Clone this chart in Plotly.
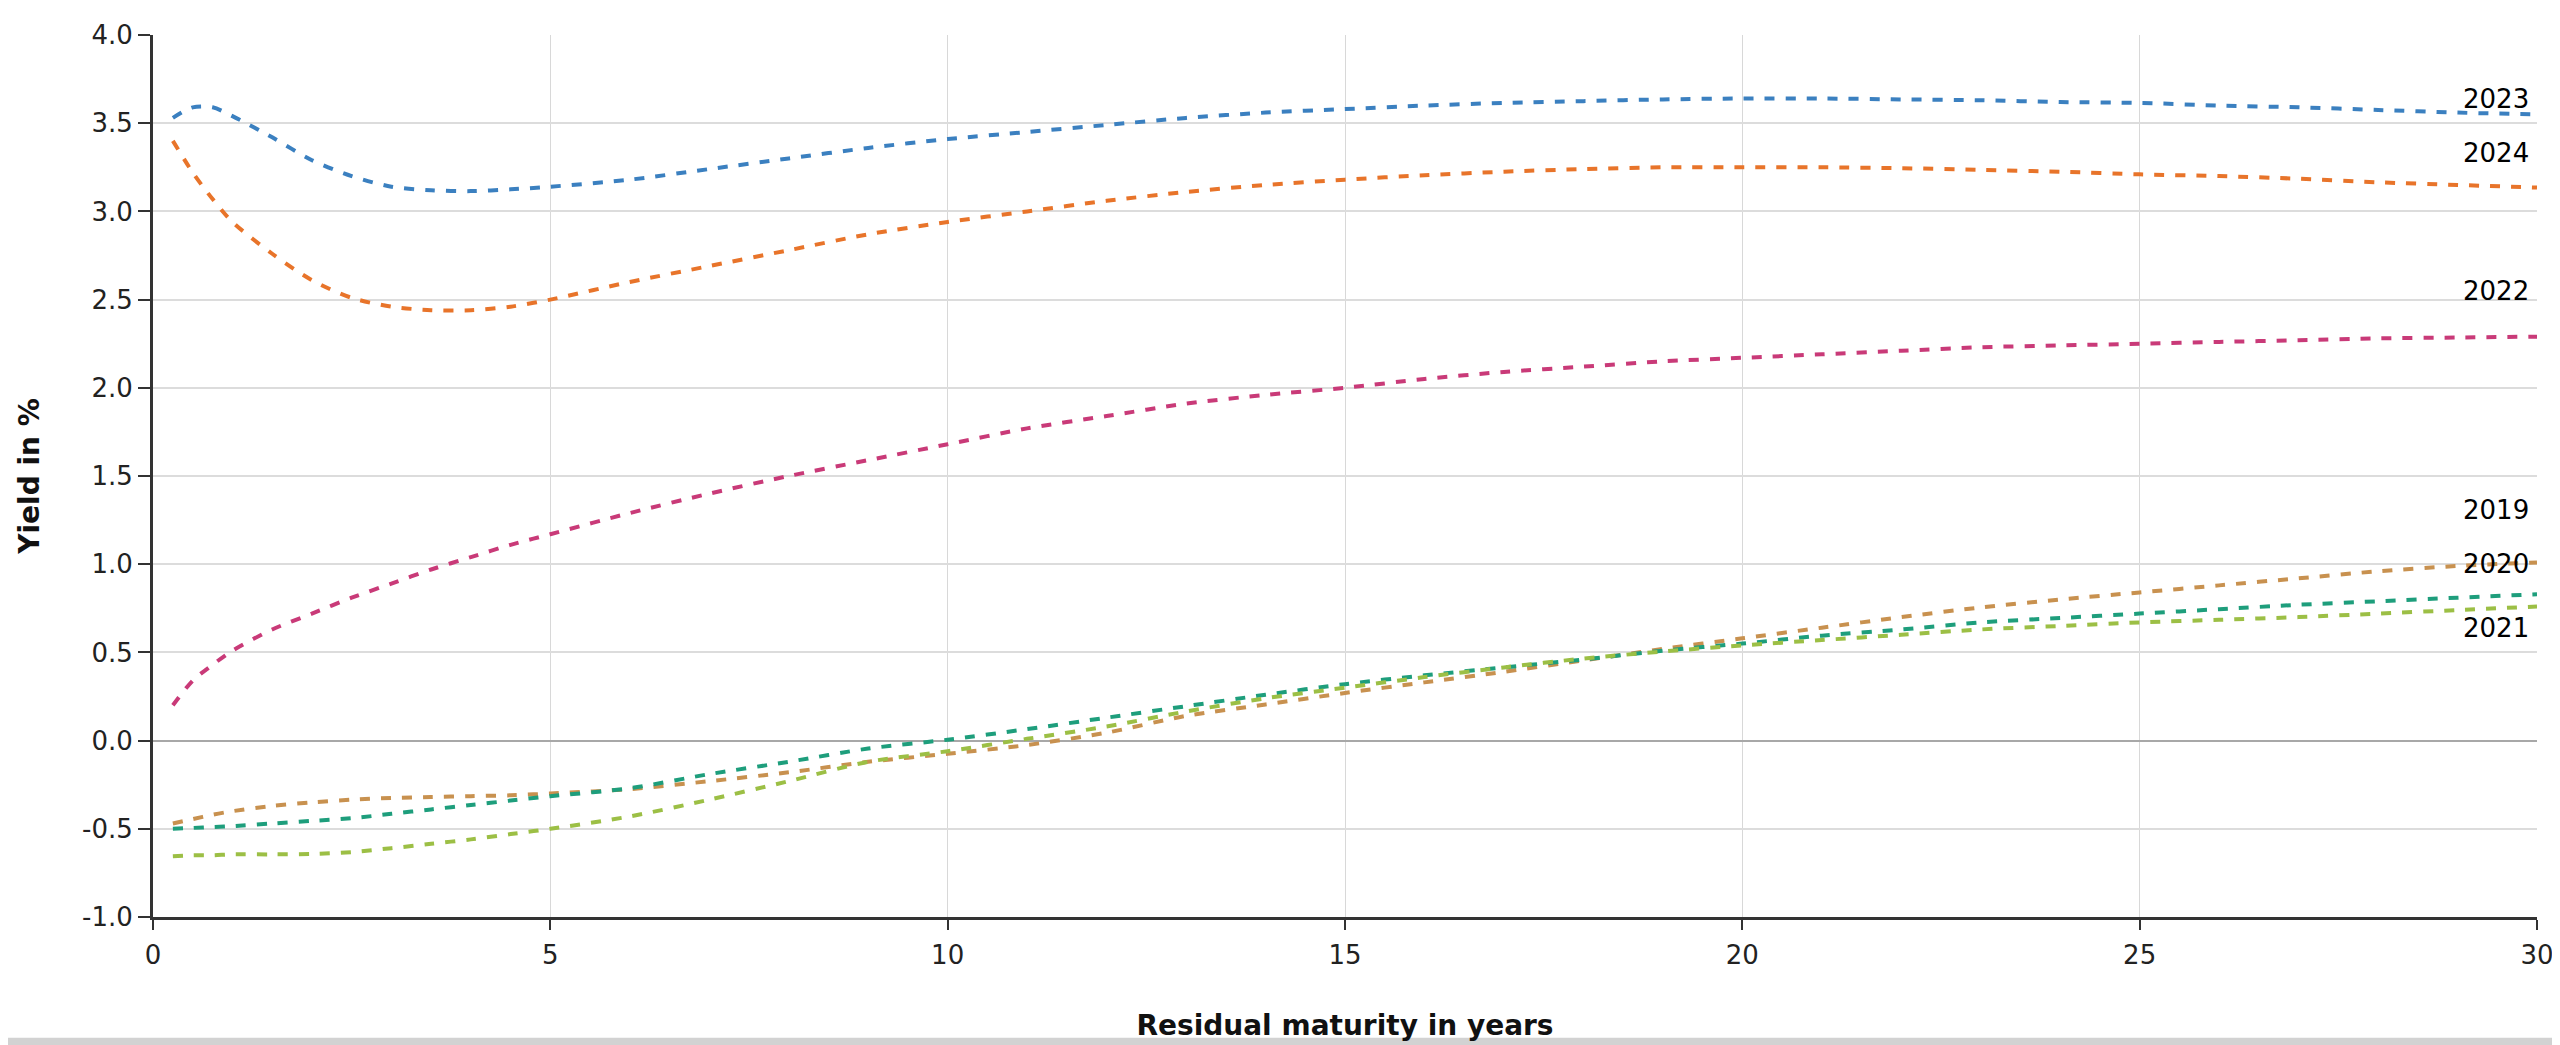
import plotly.graph_objects as go

# Residual maturity (years)
maturity = [0.25, 0.5, 0.75, 1, 1.5, 2, 2.5, 3, 3.5, 4, 4.5, 5, 6, 7, 8, 9, 10,
            11, 12, 13, 14, 15, 16, 17, 18, 19, 20, 21, 22, 23, 24, 25, 26, 27, 28, 29, 30]

yield_2023 = [3.53, 3.59, 3.59, 3.54, 3.42, 3.29, 3.20, 3.14, 3.12, 3.115, 3.125, 3.14, 3.18, 3.24,
              3.30, 3.36, 3.41, 3.45, 3.49, 3.53, 3.56, 3.58, 3.60, 3.615, 3.625, 3.635, 3.64, 3.64,
              3.635, 3.63, 3.62, 3.615, 3.60, 3.59, 3.575, 3.56, 3.55]
yield_2024 = [3.40, 3.22, 3.07, 2.94, 2.76, 2.61, 2.51, 2.46, 2.44, 2.44, 2.46, 2.50, 2.60, 2.69,
              2.78, 2.87, 2.94, 3.00, 3.06, 3.11, 3.15, 3.18, 3.205, 3.225, 3.24, 3.25, 3.25, 3.25,
              3.245, 3.235, 3.225, 3.21, 3.20, 3.185, 3.165, 3.15, 3.135]
yield_2022 = [0.20, 0.34, 0.43, 0.51, 0.63, 0.72, 0.81, 0.89, 0.97, 1.04, 1.11, 1.17, 1.29, 1.40,
              1.50, 1.59, 1.68, 1.77, 1.84, 1.91, 1.96, 2.00, 2.05, 2.09, 2.12, 2.15, 2.17, 2.19,
              2.21, 2.23, 2.24, 2.25, 2.26, 2.27, 2.28, 2.285, 2.29]
yield_2019 = [-0.47, -0.445, -0.42, -0.40, -0.37, -0.35, -0.335, -0.325, -0.32, -0.315, -0.31, -0.30,
              -0.275, -0.23, -0.18, -0.12, -0.075, -0.025, 0.045, 0.14, 0.205, 0.27, 0.33, 0.39,
              0.455, 0.52, 0.58, 0.64, 0.70, 0.755, 0.80, 0.84, 0.88, 0.92, 0.96, 0.99, 1.01]
yield_2020 = [-0.50, -0.495, -0.49, -0.485, -0.47, -0.455, -0.44, -0.415, -0.39, -0.365, -0.34, -0.315,
              -0.27, -0.19, -0.12, -0.045, 0.005, 0.065, 0.13, 0.195, 0.26, 0.32, 0.37, 0.415,
              0.46, 0.51, 0.55, 0.595, 0.63, 0.67, 0.695, 0.72, 0.745, 0.77, 0.79, 0.81, 0.83]
yield_2021 = [-0.655, -0.65, -0.65, -0.645, -0.645, -0.643, -0.632, -0.61, -0.585, -0.56, -0.53, -0.50,
              -0.43, -0.335, -0.23, -0.12, -0.06, 0.01, 0.08, 0.165, 0.24, 0.30, 0.36, 0.415,
              0.465, 0.505, 0.54, 0.57, 0.60, 0.63, 0.65, 0.67, 0.685, 0.70, 0.72, 0.74, 0.76]

series_names = ["2023", "2024", "2022", "2019", "2020", "2021"]
series_values = [yield_2023, yield_2024, yield_2022, yield_2019, yield_2020, yield_2021]
series_colors = ["#3b80c0", "#e8742a", "#c93a78", "#c8914f", "#1e9e7c", "#9cbf45"]
label_y = [3.64, 3.33, 2.55, 1.31, 1.00, 0.64]

x_ticks = [0, 5, 10, 15, 20, 25, 30]
y_ticks = [-1.0, -0.5, 0.0, 0.5, 1.0, 1.5, 2.0, 2.5, 3.0, 3.5, 4.0]
y_ticktext = [f"{v:.1f}" for v in y_ticks]

fig = go.Figure()
for name, vals, col in zip(series_names, series_values, series_colors):
    fig.add_trace(go.Scatter(
        x=maturity, y=vals, mode="lines", name=name,
        line=dict(color=col, width=4, dash="10px,11px", shape="spline", smoothing=0.8),
        showlegend=False,
    ))

for name, ly in zip(series_names, label_y):
    fig.add_annotation(x=30, y=ly, xref="x", yref="y", text=name, showarrow=False,
                       xanchor="right", yanchor="middle", xshift=-6,
                       font=dict(family="DejaVu Sans", size=26, color="#000000"))

# bottom grey strip (scrollbar-like band)
fig.add_shape(type="rect", xref="paper", yref="paper", x0=-0.2, x1=1.2, y0=-0.3, y1=-0.137,
              fillcolor="#d2d2d2", line=dict(width=0), layer="above")

fig.update_layout(
    width=2560, height=1045, autosize=False,
    margin=dict(l=145, r=31, t=25, b=136),
    paper_bgcolor="white", plot_bgcolor="white",
    font=dict(family="DejaVu Sans", color="#222222"),
)
fig.update_xaxes(
    range=[0, 30], tickvals=x_ticks, ticktext=[str(v) for v in x_ticks],
    showgrid=True, gridcolor="#d8d8d8", gridwidth=1,
    showline=True, linecolor="#333333", linewidth=3,
    ticks="outside", ticklen=10, tickwidth=2, tickcolor="#333333",
    ticklabelstandoff=3,
    tickfont=dict(family="DejaVu Sans", size=26, color="#222222"),
    zeroline=False,
    title=dict(text="<b>Residual maturity in years</b>", standoff=47,
               font=dict(family="DejaVu Sans", size=28, color="#111111")),
)
fig.update_yaxes(
    range=[-1, 4], tickvals=y_ticks, ticktext=y_ticktext,
    showgrid=True, gridcolor="#dcdcdc", gridwidth=2,
    zeroline=True, zerolinecolor="#a8a8a8", zerolinewidth=2,
    showline=True, linecolor="#333333", linewidth=3,
    ticks="outside", ticklen=12, tickwidth=2, tickcolor="#333333",
    tickfont=dict(family="DejaVu Sans", size=26, color="#222222"),
    title=dict(text="<b>Yield in %</b>", standoff=35,
               font=dict(family="DejaVu Sans", size=28, color="#111111")),
)

fig.write_html("out.html")
